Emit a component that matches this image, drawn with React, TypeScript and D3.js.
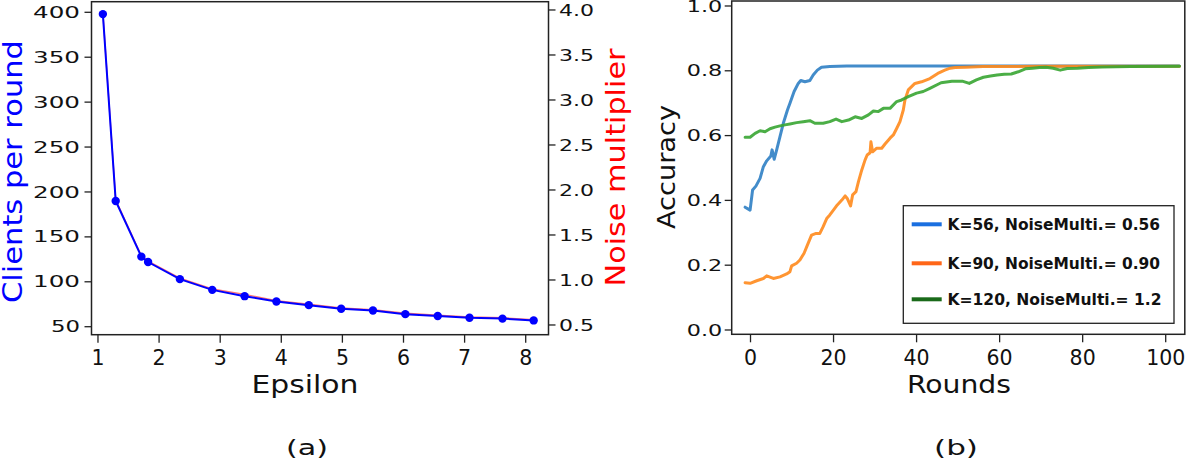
import { useEffect } from 'react';
import * as d3 from 'd3';

// (a) clients per round / noise multiplier vs epsilon
const epsilon = [1.08, 1.29, 1.71, 1.82, 2.34, 2.87, 3.4, 3.92, 4.45, 4.98, 5.5, 6.03, 6.56, 7.08, 7.62, 8.13];
const clients = [398, 190, 128, 122, 103, 91, 84, 78, 74, 70, 68, 64, 62, 60, 59, 57];
const noiseMulti = [3.97, 1.89, 1.27, 1.21, 1.02, 0.9, 0.84, 0.77, 0.73, 0.69, 0.67, 0.63, 0.61, 0.59, 0.58, 0.56];
const clientTicks = [50, 100, 150, 200, 250, 300, 350, 400];
const noiseTicks = [0.5, 1.0, 1.5, 2.0, 2.5, 3.0, 3.5, 4.0];
const epsTicks = [1, 2, 3, 4, 5, 6, 7, 8];

// (b) accuracy vs rounds: [round, accuracy]
const accK56: [number, number][] = [
  [-1.3, 0.379], [-0.1, 0.37], [0.5, 0.432], [1.3, 0.444], [2.3, 0.468], [3.1, 0.504], [3.9, 0.522],
  [4.9, 0.537], [5.2, 0.556], [5.7, 0.527], [6.3, 0.556], [7.1, 0.597], [7.9, 0.638], [8.9, 0.679],
  [9.5, 0.7], [10.5, 0.736], [11.5, 0.761], [12.1, 0.77], [13.1, 0.766], [14.3, 0.77], [15.1, 0.787],
  [16.1, 0.802], [17.1, 0.811], [19.1, 0.813], [23.2, 0.815], [40, 0.815], [60, 0.815], [80, 0.815], [103.3, 0.815],
];
const accK90: [number, number][] = [
  [-1.3, 0.146], [-0.1, 0.144], [1.5, 0.152], [3.1, 0.159], [3.9, 0.167], [5.5, 0.159], [7.1, 0.164],
  [8.7, 0.173], [9.5, 0.18], [9.9, 0.198], [11.1, 0.206], [11.9, 0.216], [12.9, 0.237], [13.7, 0.262],
  [14.7, 0.293], [15.8, 0.298], [16.7, 0.298], [17.5, 0.319], [18.4, 0.345], [19.1, 0.355], [20.1, 0.372],
  [20.9, 0.386], [22.0, 0.401], [22.8, 0.414], [23.3, 0.406], [24.1, 0.383], [24.6, 0.417], [25.4, 0.427],
  [26.0, 0.458], [26.8, 0.494], [27.6, 0.525], [28.1, 0.54], [28.8, 0.547], [29.0, 0.581], [29.4, 0.55],
  [30.4, 0.561], [31.6, 0.561], [32.4, 0.574], [33.6, 0.592], [34.4, 0.602], [35.2, 0.622], [36.0, 0.643],
  [36.8, 0.679], [37.2, 0.71], [38.0, 0.741], [38.8, 0.751], [39.6, 0.761], [41.2, 0.766], [43.2, 0.776],
  [45.1, 0.792], [46.8, 0.802], [48.1, 0.808], [49.3, 0.81], [51.9, 0.811], [56, 0.813], [70, 0.814],
  [85, 0.814], [103.3, 0.814],
];
const accK120: [number, number][] = [
  [-1.3, 0.595], [-0.1, 0.595], [1.1, 0.607], [2.3, 0.615], [3.5, 0.612], [4.7, 0.621], [5.9, 0.626],
  [7.1, 0.63], [8.3, 0.633], [9.5, 0.636], [11.1, 0.64], [12.7, 0.643], [14.3, 0.646], [15.5, 0.638],
  [17.5, 0.638], [19.1, 0.643], [20.6, 0.651], [22.0, 0.643], [23.6, 0.648], [25.2, 0.658], [26.8, 0.653],
  [28.4, 0.664], [29.6, 0.676], [30.8, 0.674], [32.0, 0.684], [33.6, 0.684], [35.2, 0.705], [36.4, 0.71],
  [38.0, 0.72], [40.0, 0.731], [41.6, 0.736], [43.2, 0.746], [45.9, 0.763], [48.5, 0.768], [51.0, 0.768],
  [52.7, 0.761], [54.4, 0.772], [56.1, 0.78], [57.8, 0.784], [59.4, 0.787], [61.1, 0.789], [62.8, 0.79],
  [64.5, 0.797], [66.2, 0.806], [67.9, 0.808], [69.6, 0.81], [71.2, 0.811], [72.9, 0.808], [74.6, 0.802],
  [76.3, 0.807], [78.8, 0.808], [81.4, 0.81], [84.7, 0.812], [91.5, 0.813], [103.3, 0.814],
];
const accTicks = [0.0, 0.2, 0.4, 0.6, 0.8, 1.0];
const roundTicks = [0, 20, 40, 60, 80, 100];

const series = [
  { label: 'K=56, NoiseMulti.= 0.56', data: accK56, color: '#2f7fc4', legendColor: '#1a6fe0', width: 212.5 },
  { label: 'K=90, NoiseMulti.= 0.90', data: accK90, color: '#ff8a1c', legendColor: '#ff6618', width: 212.5 },
  { label: 'K=120, NoiseMulti.= 1.2', data: accK120, color: '#37a532', legendColor: '#1a6a1a', width: 214 },
];

const FONT = "'DejaVu Sans', Verdana, sans-serif";
const AXIS = '#222';

export default function App() {
  useEffect(() => {
    document.body.style.margin = '0';
  }, []);

  // panel (a)
  const aL = 91.5, aR = 548.5, aT = 1.7, aB = 334.7;
  const xA = d3.scaleLinear().domain([0.894, 8.373]).range([aL, aR]);
  const yA = d3.scaleLinear().domain([41.1, 411.8]).range([aB, aT]);
  const yA2 = d3.scaleLinear().domain([0.392, 4.092]).range([aB, aT]);
  const clientLine = d3.line<number>().x((_, i) => xA(epsilon[i])).y((d) => yA(d));
  const noiseLine = d3.line<number>().x((_, i) => xA(epsilon[i])).y((d) => yA2(d));

  // panel (b)
  const bL = 731.7, bR = 1184.8, bT = 1, bB = 334.3;
  const xB = d3.scaleLinear().domain([-4.53, 104.6]).range([bL, bR]);
  const yB = d3.scaleLinear().domain([-0.0133, 1.0154]).range([bB, bT]);
  const accLine = d3.line<[number, number]>().x((d) => xB(d[0])).y((d) => yB(d[1])).curve(d3.curveLinear);

  const legendYs = [224.3, 263.3, 299.3];

  return (
    <svg width={1189} height={461} style={{ display: 'block', fontFamily: FONT }}>
      <rect width={1189} height={461} fill="#fff" />

      {/* ---------- (a) ---------- */}
      <path d={noiseLine(noiseMulti) || ''} fill="none" stroke="#ff0000" strokeWidth={1.4} opacity={0.55} />
      <path d={clientLine(clients) || ''} fill="none" stroke="#0000ff" strokeWidth={2} />
      {clients.map((c, i) => (
        <circle key={i} cx={xA(epsilon[i])} cy={yA(c)} r={4.2} fill="#0000ff" />
      ))}
      <rect x={aL} y={aT} width={aR - aL} height={aB - aT} fill="none" stroke={AXIS} strokeWidth={1.5} />

      {clientTicks.map((t) => (
        <g key={t} transform={`translate(${aL},${yA(t)})`}>
          <line x1={-7} x2={0} stroke={AXIS} strokeWidth={1.3} />
          <text x={-11.5} y={5.6} textAnchor="end" fontSize={15.5} fill="#111"
            textLength={t >= 100 ? 47 : 29} lengthAdjust="spacingAndGlyphs">{t}</text>
        </g>
      ))}
      {noiseTicks.map((t) => (
        <g key={t} transform={`translate(${aR},${yA2(t)})`}>
          <line x1={0} x2={7} stroke={AXIS} strokeWidth={1.3} />
          <text x={10.5} y={5.6} fontSize={15.5} fill="#111" textLength={35} lengthAdjust="spacingAndGlyphs">
            {t.toFixed(1)}
          </text>
        </g>
      ))}
      {epsTicks.map((t) => (
        <g key={t} transform={`translate(${xA(t)},${aB})`}>
          <line y1={0} y2={8} stroke={AXIS} strokeWidth={1.3} />
          <text y={30.5} textAnchor="middle" fontSize={20.5} fill="#111">{t}</text>
        </g>
      ))}
      <text x={305} y={393} textAnchor="middle" fontSize={24} fill="#111" textLength={107} lengthAdjust="spacingAndGlyphs">
        Epsilon
      </text>
      <text transform="translate(22,171.5) rotate(-90)" textAnchor="middle" fontSize={26} fill="#0000ff"
        textLength={263} lengthAdjust="spacingAndGlyphs">
        Clients per round
      </text>
      <text transform="translate(625,167.5) rotate(-90)" textAnchor="middle" fontSize={26} fill="#ff0000"
        textLength={238} lengthAdjust="spacingAndGlyphs">
        Noise multiplier
      </text>
      <text x={307} y={455} textAnchor="middle" fontSize={22} fill="#111" textLength={42} lengthAdjust="spacingAndGlyphs">
        (a)
      </text>

      {/* ---------- (b) ---------- */}
      <defs>
        <clipPath id="clipB">
          <rect x={bL} y={bT} width={bR - bL} height={bB - bT} />
        </clipPath>
      </defs>
      <g clipPath="url(#clipB)">
        {series.map((s) => (
          <path key={s.label} d={accLine(s.data) || ''} fill="none" stroke={s.color} strokeWidth={3}
            strokeLinejoin="round" strokeLinecap="round" opacity={0.9} />
        ))}
      </g>
      <rect x={bL} y={bT} width={bR - bL} height={bB - bT} fill="none" stroke={AXIS} strokeWidth={1.5} />
      {accTicks.map((t) => (
        <g key={t} transform={`translate(${bL},${yB(t)})`}>
          <line x1={-7} x2={0} stroke={AXIS} strokeWidth={1.3} />
          <text x={-9.5} y={5.6} textAnchor="end" fontSize={15.5} fill="#111" textLength={35.5} lengthAdjust="spacingAndGlyphs">
            {t.toFixed(1)}
          </text>
        </g>
      ))}
      {roundTicks.map((t) => (
        <g key={t} transform={`translate(${xB(t)},${bB})`}>
          <line y1={0} y2={8} stroke={AXIS} strokeWidth={1.3} />
          <text y={30.7} textAnchor="middle" fontSize={20.5} fill="#111">{t}</text>
        </g>
      ))}
      <text x={959} y={393} textAnchor="middle" fontSize={24} fill="#111" textLength={104} lengthAdjust="spacingAndGlyphs">
        Rounds
      </text>
      <text transform="translate(675,167) rotate(-90)" textAnchor="middle" fontSize={24} fill="#111"
        textLength={124} lengthAdjust="spacingAndGlyphs">
        Accuracy
      </text>
      <text x={956} y={455} textAnchor="middle" fontSize={22} fill="#111" textLength={44} lengthAdjust="spacingAndGlyphs">
        (b)
      </text>

      {/* legend */}
      <rect x={903.3} y={205.7} width={1174 - 903.3} height={323.3 - 205.7} fill="#fff" stroke={AXIS} strokeWidth={1.3} />
      {series.map((s, i) => (
        <g key={s.label}>
          <line x1={911.7} x2={941.7} y1={legendYs[i]} y2={legendYs[i]} stroke={s.legendColor} strokeWidth={4} />
          <text x={947.5} y={legendYs[i] + 5.8} fontSize={15.5} fontWeight="bold" fill="#111"
            textLength={s.width} lengthAdjust="spacingAndGlyphs">
            {s.label}
          </text>
        </g>
      ))}
    </svg>
  );
}
